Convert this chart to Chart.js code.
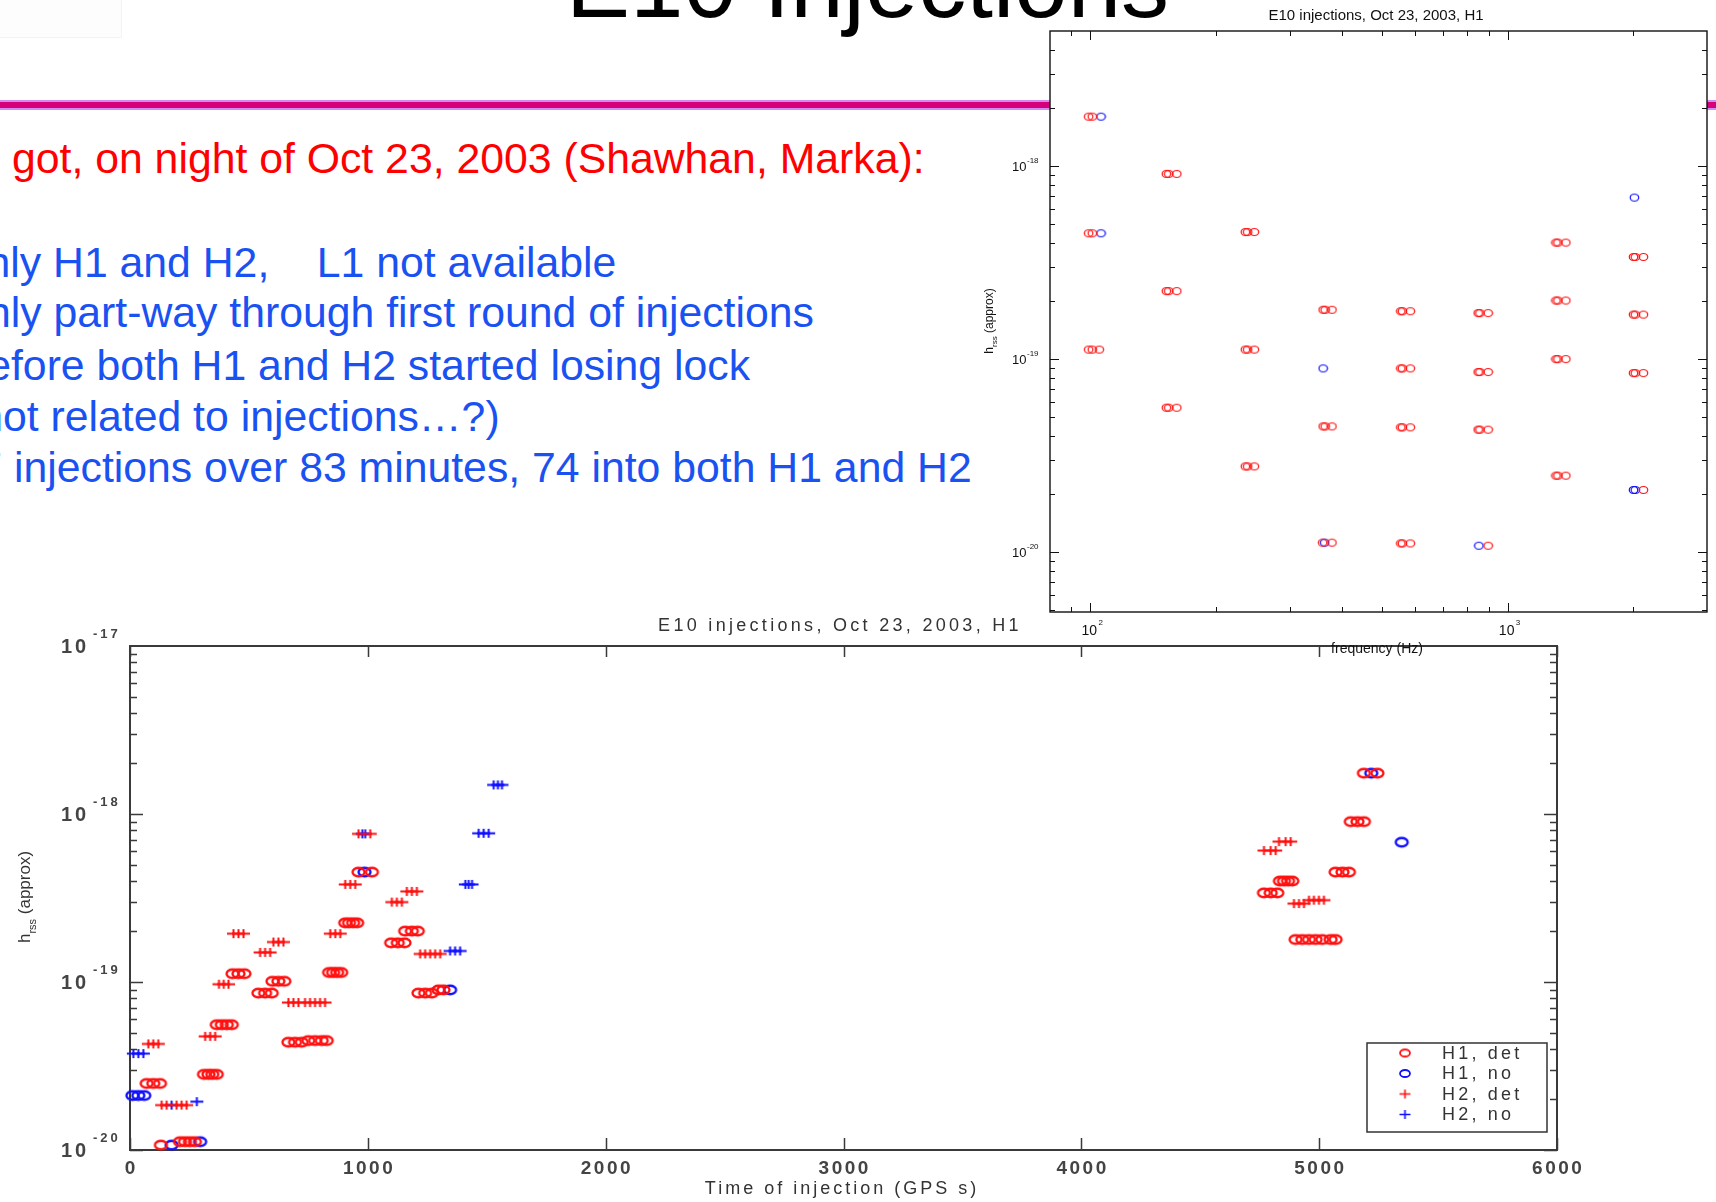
<!DOCTYPE html>
<html>
<head>
<meta charset="utf-8">
<title>E10 Injections</title>
<script src="https://cdn.jsdelivr.net/npm/chart.js@4.4.1/dist/chart.umd.min.js"></script>
<style>
  html, body { margin: 0; padding: 0; background: #fff; }
  body { width: 1716px; height: 1202px; position: relative; overflow: hidden; font-family: "Liberation Sans", Arial, sans-serif; }
  #slide { position: absolute; left: 0; top: 0; width: 1716px; height: 1202px; }
  .line { position: absolute; white-space: pre; }
  #rule { position: absolute; left: 0; top: 100px; width: 1716px; height: 10px; background: #d28cf0; }
  #rule div { position: absolute; left: 0; top: 2px; width: 100%; height: 6px; background: #d6007c; }
  #ghost { position: absolute; left: 0; top: 0; width: 121px; height: 37px; border-right: 1px solid #f3f3f3; border-bottom: 1px solid #f3f3f3; background: #fdfdfd; }
  canvas { position: absolute; left: 0; top: 0; }
</style>
</head>
<body>
<div id="slide">
  <div id="ghost"></div>
  <div id="rule"><div></div></div>
</div>
<canvas id="mainChart" width="1716" height="1202"></canvas>
<canvas id="insetChart" width="1716" height="1202"></canvas>
<script>
// ---- data ----
// main plot: [time of injection (GPS s), hrss]
const h1Det = [
  [961, 4.51e-19], [1017, 4.51e-19],
  [905, 2.25e-19], [921, 2.25e-19], [938, 2.25e-19], [955, 2.25e-19],
  [1157, 2.01e-19], [1185, 2.01e-19], [1210, 2.01e-19],
  [1098, 1.71e-19], [1126, 1.71e-19], [1154, 1.71e-19],
  [431, 1.12e-19], [456, 1.12e-19], [481, 1.12e-19],
  [837, 1.14e-19], [854, 1.14e-19], [871, 1.14e-19], [888, 1.14e-19],
  [599, 1.01e-19], [624, 1.01e-19], [649, 1.01e-19],
  [540, 8.59e-20], [568, 8.59e-20], [596, 8.59e-20],
  [1213, 8.59e-20], [1241, 8.59e-20], [1269, 8.59e-20], [1297, 8.97e-20], [1318, 8.97e-20],
  [666, 4.38e-20], [694, 4.38e-20], [722, 4.38e-20], [750, 4.48e-20], [778, 4.48e-20], [806, 4.48e-20], [827, 4.48e-20],
  [365, 5.57e-20], [386, 5.57e-20], [407, 5.57e-20], [428, 5.57e-20],
  [311, 2.82e-20], [330, 2.82e-20], [346, 2.82e-20], [365, 2.82e-20],
  [70, 2.49e-20], [98, 2.49e-20], [126, 2.49e-20],
  [130, 1.07e-20], [210, 1.12e-20], [231, 1.12e-20], [252, 1.12e-20], [273, 1.12e-20],
  [5188, 1.75e-18], [5245, 1.75e-18],
  [5133, 9.0e-19], [5161, 9.0e-19], [5188, 9.0e-19],
  [5069, 4.51e-19], [5098, 4.51e-19], [5125, 4.51e-19],
  [4835, 3.99e-19], [4852, 3.99e-19], [4869, 3.99e-19], [4887, 3.99e-19],
  [4768, 3.39e-19], [4796, 3.39e-19], [4824, 3.39e-19],
  [4901, 1.79e-19], [4929, 1.79e-19], [4957, 1.79e-19], [4985, 1.79e-19], [5013, 1.79e-19], [5048, 1.79e-19], [5069, 1.79e-19]
];
const h1No = [
  [986, 4.51e-19], [1346, 8.97e-20], [10, 2.11e-20], [35, 2.11e-20], [60, 2.11e-20],
  [175, 1.07e-20], [295, 1.12e-20], [5219, 1.75e-18], [5347, 6.79e-19]
];
const h2Det = [
  [961, 7.62e-19], [1010, 7.62e-19],
  [905, 3.81e-19], [926, 3.81e-19], [947, 3.81e-19],
  [1164, 3.46e-19], [1185, 3.46e-19], [1206, 3.46e-19],
  [1101, 2.99e-19], [1122, 2.99e-19], [1143, 2.99e-19],
  [435, 1.94e-19], [456, 1.94e-19], [477, 1.94e-19],
  [842, 1.94e-19], [863, 1.94e-19], [884, 1.94e-19],
  [603, 1.73e-19], [624, 1.73e-19], [645, 1.73e-19],
  [547, 1.50e-19], [568, 1.50e-19], [589, 1.50e-19],
  [1220, 1.47e-19], [1241, 1.47e-19], [1262, 1.47e-19], [1283, 1.47e-19], [1304, 1.47e-19],
  [374, 9.7e-20], [394, 9.7e-20], [414, 9.7e-20],
  [666, 7.55e-20], [687, 7.55e-20], [708, 7.55e-20], [736, 7.55e-20], [757, 7.55e-20], [778, 7.55e-20], [799, 7.55e-20], [820, 7.55e-20],
  [77, 4.28e-20], [98, 4.28e-20], [119, 4.28e-20],
  [316, 4.75e-20], [337, 4.75e-20], [358, 4.75e-20],
  [133, 1.85e-20], [154, 1.85e-20], [196, 1.85e-20], [217, 1.85e-20], [238, 1.85e-20],
  [4831, 6.85e-19], [4859, 6.85e-19], [4880, 6.85e-19],
  [4768, 6.06e-19], [4796, 6.06e-19], [4817, 6.06e-19],
  [4894, 2.93e-19], [4915, 2.93e-19], [4936, 2.93e-19], [4957, 3.07e-19], [4978, 3.07e-19], [4999, 3.07e-19], [5020, 3.07e-19]
];
const h2No = [
  [1529, 1.49e-18], [1547, 1.49e-18], [1564, 1.49e-18],
  [1466, 7.68e-19], [1487, 7.68e-19], [1508, 7.68e-19],
  [977, 7.62e-19], [989, 7.62e-19],
  [1410, 3.81e-19], [1424, 3.81e-19], [1438, 3.81e-19],
  [1346, 1.53e-19], [1367, 1.53e-19], [1388, 1.53e-19],
  [14, 3.75e-20], [35, 3.75e-20], [56, 3.75e-20],
  [175, 1.85e-20], [281, 1.94e-20]
];
const mainLabels = ['H1, det', 'H1, no', 'H2, det', 'H2, no'];
const mainXTicks = [0, 1000, 2000, 3000, 4000, 5000, 6000];
const mainYDecades = [-20, -19, -18, -17];

// inset plot: [frequency (Hz), hrss]
const insetDet = [
  [99, 1.80e-18], [101, 1.80e-18],
  [99, 4.48e-19], [101, 4.48e-19],
  [99, 1.12e-19], [101, 1.12e-19], [105, 1.12e-19],
  [152, 9.1e-19], [154, 9.1e-19], [161, 9.1e-19],
  [152, 2.25e-19], [154, 2.25e-19], [161, 2.25e-19],
  [152, 5.6e-20], [154, 5.6e-20], [161, 5.6e-20],
  [235, 4.55e-19], [238, 4.55e-19], [247, 4.55e-19],
  [235, 1.12e-19], [238, 1.12e-19], [247, 1.12e-19],
  [235, 2.78e-20], [238, 2.78e-20], [247, 2.78e-20],
  [361, 1.80e-19], [365, 1.80e-19], [379, 1.80e-19],
  [361, 4.48e-20], [365, 4.48e-20], [379, 4.48e-20],
  [360, 1.12e-20], [379, 1.12e-20],
  [554, 1.77e-19], [559, 1.77e-19], [584, 1.77e-19],
  [554, 8.95e-20], [559, 8.95e-20], [584, 8.95e-20],
  [554, 4.43e-20], [559, 4.43e-20], [584, 4.43e-20],
  [554, 1.11e-20], [559, 1.11e-20], [584, 1.11e-20],
  [849, 1.73e-19], [857, 1.73e-19], [897, 1.73e-19],
  [849, 8.57e-20], [857, 8.57e-20], [897, 8.57e-20],
  [849, 4.31e-20], [857, 4.31e-20], [897, 4.31e-20],
  [897, 1.08e-20],
  [1304, 4.01e-19], [1318, 4.01e-19], [1377, 4.01e-19],
  [1304, 2.01e-19], [1318, 2.01e-19], [1377, 2.01e-19],
  [1304, 1.00e-19], [1318, 1.00e-19], [1377, 1.00e-19],
  [1304, 2.49e-20], [1318, 2.49e-20], [1377, 2.49e-20],
  [2000, 3.38e-19], [2020, 3.38e-19], [2112, 3.38e-19],
  [2000, 1.70e-19], [2020, 1.70e-19], [2112, 1.70e-19],
  [2000, 8.46e-20], [2020, 8.46e-20], [2112, 8.46e-20],
  [2112, 2.10e-20]
];
const insetNo = [
  [106, 1.80e-18], [106, 4.48e-19], [361, 8.95e-20], [364, 1.12e-20],
  [852, 1.08e-20], [2010, 6.86e-19], [2000, 2.10e-20], [2020, 2.10e-20]
];
const insetXDecades = [2, 3];
const insetYDecades = [-20, -19, -18];

// slide text: [text, hidden part left of the window edge, x where the visible part starts, baseline]
const slideTitle = 'E10 Injections';
const redLines = [['What we got, on night of Oct 23, 2003 (Shawhan, Marka):', 'What we ', 12, 173]];
const blueLines = [
  ['Only H1 and H2,    L1 not available', 'Only ', 53, 277],
  ['Only part-way through first round of injections', 'Only ', 53.5, 327],
  ['before both H1 and H2 started losing lock', 'before ', 96.5, 380],
  ['(not related to injections\u2026?)', '(not ', 50.5, 431.5],
  ['77 injections over 83 minutes, 74 into both H1 and H2', '77 ', 14, 482]
];
const TEXT_SIZE = 42.75;

// ---- slide text ----
const slide = document.getElementById('slide');
const measure = document.createElement('canvas').getContext('2d');

function placeLine(text, hidden, x, baseline, size, color) {
  measure.font = size + 'px "Liberation Sans"';
  const el = document.createElement('div');
  el.className = 'line';
  el.textContent = text;
  el.style.fontSize = size + 'px';
  el.style.lineHeight = size + 'px';
  el.style.color = color;
  el.style.left = (x - measure.measureText(hidden).width) + 'px';
  el.style.top = (baseline - 0.8465 * size) + 'px';
  slide.appendChild(el);
}

placeLine(slideTitle, '', 566, 17, 96, '#000');
redLines.forEach(l => placeLine(l[0], l[1], l[2], l[3], TEXT_SIZE, '#ff0000'));
blueLines.forEach(l => placeLine(l[0], l[1], l[2], l[3], TEXT_SIZE, '#1a52f2'));

// ---- markers ----
function marker(kind, color, w, h, lw) {
  const c = document.createElement('canvas');
  c.width = Math.ceil(w + lw * 2);
  c.height = Math.ceil(h + lw * 2);
  const g = c.getContext('2d');
  const cx = c.width / 2, cy = c.height / 2;
  g.strokeStyle = color;
  g.lineWidth = lw;
  g.beginPath();
  if (kind === 'o') {
    g.ellipse(cx, cy, w / 2, h / 2, 0, 0, Math.PI * 2);
  } else {
    g.moveTo(cx - w / 2, cy); g.lineTo(cx + w / 2, cy);
    g.moveTo(cx, cy - h / 2); g.lineTo(cx, cy + h / 2);
  }
  g.stroke();
  return c;
}

const RED = '#ff1010', BLUE = '#1010ff';
const mainMarkers = [
  marker('o', RED, 12, 8.5, 2.3), marker('o', BLUE, 12, 8.5, 2.3),
  marker('+', RED, 13, 9, 2), marker('+', BLUE, 13, 9, 2)
];
const legendMarkers = [
  marker('o', RED, 10, 7, 1.8), marker('o', BLUE, 10, 7, 1.8),
  marker('+', RED, 11, 9, 1.6), marker('+', BLUE, 11, 9, 1.6)
];
const insetMarkers = [marker('o', RED, 8.5, 7, 1.2), marker('o', BLUE, 8.5, 7, 1.2)];

const toXY = pts => pts.map(p => ({ x: p[0], y: p[1] }));

function powLabel(ctx, x, y, exp, o) {
  ctx.font = (o.weight || '') + ' ' + o.size + 'px "Liberation Sans"';
  ctx.letterSpacing = o.spacing + 'px';
  ctx.textAlign = 'left';
  ctx.fillText('10', x, y);
  ctx.font = (o.weight || '') + ' ' + o.supSize + 'px "Liberation Sans"';
  ctx.letterSpacing = o.supSpacing + 'px';
  ctx.fillText(String(exp), x + o.supDx, y - o.supDy);
}

// ---- main plot axes, ticks, labels, legend ----
const mainAxes = {
  id: 'mainAxes',
  beforeDatasetsDraw(chart) {
    const { ctx, chartArea: a, scales: { x, y } } = chart;
    ctx.save();
    ctx.strokeStyle = '#3a3a3a';
    ctx.lineWidth = 2;
    ctx.strokeRect(a.left, a.top, a.right - a.left, a.bottom - a.top);
    ctx.lineWidth = 1.5;
    ctx.beginPath();
    mainXTicks.forEach(v => {
      const px = Math.round(x.getPixelForValue(v)) + 0.5;
      ctx.moveTo(px, a.bottom); ctx.lineTo(px, a.bottom - 12);
      ctx.moveTo(px, a.top); ctx.lineTo(px, a.top + 11);
    });
    for (let e = mainYDecades[0]; e < mainYDecades[mainYDecades.length - 1]; e++) {
      for (let m = 1; m < 10; m++) {
        const py = Math.round(y.getPixelForValue(m * Math.pow(10, e))) + 0.5;
        const len = m === 1 ? 13 : 7;
        ctx.moveTo(a.left, py); ctx.lineTo(a.left + len, py);
        ctx.moveTo(a.right, py); ctx.lineTo(a.right - len, py);
      }
    }
    ctx.stroke();

    ctx.fillStyle = '#444';
    ctx.textBaseline = 'alphabetic';
    ctx.font = 'bold 19px "Liberation Sans"';
    ctx.letterSpacing = '2.5px';
    ctx.textAlign = 'center';
    mainXTicks.forEach(v => ctx.fillText(String(v), x.getPixelForValue(v) + 1.25, 1174));

    mainYDecades.forEach(e => {
      const py = y.getPixelForValue(Math.pow(10, e));
      powLabel(ctx, 61, py + 7, e, { weight: 'bold', size: 20, spacing: 3, supSize: 13, supSpacing: 3, supDx: 32, supDy: 15 });
    });

    ctx.fillStyle = '#333';
    ctx.font = '18px "Liberation Sans"';
    ctx.letterSpacing = '3.3px';
    ctx.textAlign = 'center';
    ctx.fillText('E10 injections, Oct 23, 2003, H1', 840, 631);
    ctx.letterSpacing = '3px';
    ctx.fillText('Time of injection (GPS s)', 842, 1194);

    // rotated y title with subscript
    ctx.translate(30, 897);
    ctx.rotate(-Math.PI / 2);
    ctx.textAlign = 'left';
    ctx.letterSpacing = '0px';
    ctx.font = '17px "Liberation Sans"';
    const wH = ctx.measureText('h').width;
    const rest = ' (approx)';
    const wRest = ctx.measureText(rest).width;
    ctx.font = '11px "Liberation Sans"';
    const wSub = ctx.measureText('rss').width;
    const sx = -(wH + wSub + wRest) / 2;
    ctx.font = '17px "Liberation Sans"';
    ctx.fillText('h', sx, 0);
    ctx.font = '11px "Liberation Sans"';
    ctx.fillText('rss', sx + wH, 6);
    ctx.font = '17px "Liberation Sans"';
    ctx.fillText(rest, sx + wH + wSub, 0);
    ctx.restore();
  },
  afterDatasetsDraw(chart) {
    const ctx = chart.ctx;
    ctx.save();
    ctx.fillStyle = '#fff';
    ctx.strokeStyle = '#333';
    ctx.lineWidth = 1.5;
    ctx.fillRect(1367, 1043, 180, 89);
    ctx.strokeRect(1367, 1043, 180, 89);
    ctx.font = '18px "Liberation Sans"';
    ctx.letterSpacing = '3.2px';
    ctx.textAlign = 'left';
    ctx.textBaseline = 'middle';
    ctx.fillStyle = '#333';
    chart.data.datasets.forEach((ds, i) => {
      const ry = 1053 + i * 20.5;
      const m = legendMarkers[i];
      ctx.drawImage(m, 1405 - m.width / 2, ry - m.height / 2);
      ctx.fillText(ds.label, 1442, ry + 1);
    });
    ctx.restore();
  }
};

new Chart(document.getElementById('mainChart'), {
  type: 'scatter',
  data: {
    datasets: [h1Det, h1No, h2Det, h2No].map((pts, i) => ({
      label: mainLabels[i],
      data: toXY(pts),
      pointStyle: mainMarkers[i],
      pointRadius: 5,
      clip: false
    }))
  },
  options: {
    responsive: false,
    animation: false,
    events: [],
    layout: { padding: { left: 130, top: 646, right: 159, bottom: 52 } },
    scales: {
      x: { type: 'linear', min: 0, max: 6000, display: false },
      y: { type: 'logarithmic', min: 1e-20, max: 1e-17, display: false }
    },
    plugins: { legend: { display: false }, tooltip: { enabled: false } }
  },
  plugins: [mainAxes]
});

// ---- inset plot ----
const insetAxes = {
  id: 'insetAxes',
  beforeDraw(chart) {
    const { ctx, chartArea: a } = chart;
    ctx.save();
    ctx.fillStyle = '#fff';
    ctx.fillRect(a.left, a.top, a.right - a.left, a.bottom - a.top);
    ctx.restore();
  },
  beforeDatasetsDraw(chart) {
    const { ctx, chartArea: a, scales: { x, y } } = chart;
    ctx.save();
    ctx.strokeStyle = '#111';
    ctx.lineWidth = 1.4;
    ctx.strokeRect(a.left, a.top, a.right - a.left, a.bottom - a.top);
    ctx.lineWidth = 1;
    ctx.beginPath();
    for (let e = 1; e <= 3; e++) {
      for (let m = 1; m < 10; m++) {
        const v = m * Math.pow(10, e);
        if (v <= x.min || v >= x.max) continue;
        const px = Math.round(x.getPixelForValue(v)) + 0.5;
        const len = m === 1 ? 9 : 5;
        ctx.moveTo(px, a.bottom); ctx.lineTo(px, a.bottom - len);
        ctx.moveTo(px, a.top); ctx.lineTo(px, a.top + len);
      }
    }
    for (let e = -21; e <= -18; e++) {
      for (let m = 1; m < 10; m++) {
        const v = m * Math.pow(10, e);
        if (v <= y.min || v >= y.max) continue;
        const py = Math.round(y.getPixelForValue(v)) + 0.5;
        const len = m === 1 ? 9 : 5;
        ctx.moveTo(a.left, py); ctx.lineTo(a.left + len, py);
        ctx.moveTo(a.right, py); ctx.lineTo(a.right - len, py);
      }
    }
    ctx.stroke();

    ctx.fillStyle = '#111';
    ctx.textBaseline = 'alphabetic';
    insetXDecades.forEach(e => {
      const px = x.getPixelForValue(Math.pow(10, e));
      powLabel(ctx, px - 9, 635, e, { size: 14, spacing: 0, supSize: 8, supSpacing: 0, supDx: 17, supDy: 10 });
    });
    insetYDecades.forEach(e => {
      const py = y.getPixelForValue(Math.pow(10, e));
      powLabel(ctx, 1012, py + 5, e, { size: 13, spacing: 0, supSize: 8, supSpacing: 0, supDx: 15, supDy: 8 });
    });

    ctx.letterSpacing = '0px';
    ctx.textAlign = 'center';
    ctx.font = '15px "Liberation Sans"';
    ctx.fillText('E10 injections, Oct 23, 2003, H1', 1376, 20);
    ctx.font = '14px "Liberation Sans"';
    ctx.fillText('frequency (Hz)', 1377, 653);

    ctx.translate(993, 321);
    ctx.rotate(-Math.PI / 2);
    ctx.textAlign = 'left';
    ctx.font = '12px "Liberation Sans"';
    const wH = ctx.measureText('h').width;
    const rest = ' (approx)';
    const wRest = ctx.measureText(rest).width;
    ctx.font = '8px "Liberation Sans"';
    const wSub = ctx.measureText('rss').width;
    const sx = -(wH + wSub + wRest) / 2;
    ctx.font = '12px "Liberation Sans"';
    ctx.fillText('h', sx, 0);
    ctx.font = '8px "Liberation Sans"';
    ctx.fillText('rss', sx + wH, 4);
    ctx.font = '12px "Liberation Sans"';
    ctx.fillText(rest, sx + wH + wSub, 0);
    ctx.restore();
  }
};

new Chart(document.getElementById('insetChart'), {
  type: 'scatter',
  data: {
    datasets: [
      { label: 'H1, det', data: toXY(insetDet), pointStyle: insetMarkers[0], pointRadius: 4, clip: false },
      { label: 'H1, no', data: toXY(insetNo), pointStyle: insetMarkers[1], pointRadius: 4, clip: false }
    ]
  },
  options: {
    responsive: false,
    animation: false,
    events: [],
    layout: { padding: { left: 1050, top: 31, right: 9, bottom: 590 } },
    scales: {
      x: { type: 'logarithmic', min: 80, max: 3000, display: false },
      y: { type: 'logarithmic', min: 4.9e-21, max: 5e-18, display: false }
    },
    plugins: { legend: { display: false }, tooltip: { enabled: false } }
  },
  plugins: [insetAxes]
});
</script>
</body>
</html>
